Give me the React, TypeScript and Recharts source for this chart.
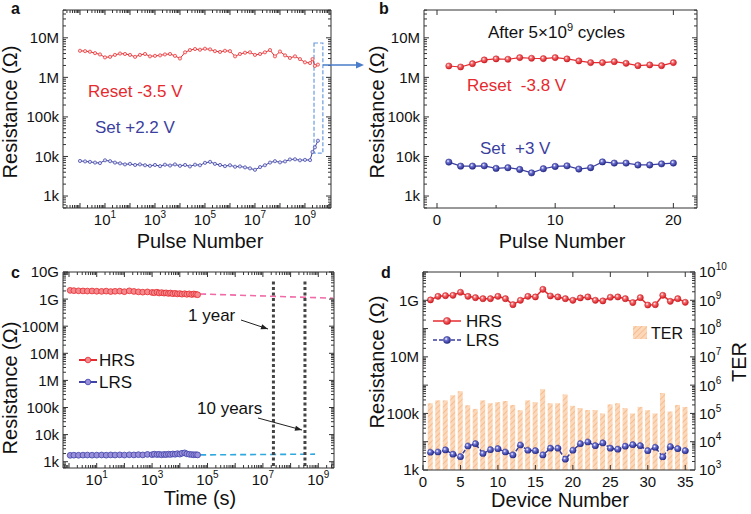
import React from "react";
import {
  LineChart,
  ComposedChart,
  Line,
  Bar,
  XAxis,
  YAxis,
  ReferenceArea,
  ReferenceLine,
} from "recharts";

const FONT = '"Liberation Sans", Arial, sans-serif';
const RED = "#E62A2E";
const BLUE = "#3B3F9F";
const AXIS = "#333";

// ---- a: endurance, 1 .. 5e9 pulses ----
const pulseA = [
  1, 1.6, 2.5, 4, 6.3, 10, 16, 25, 40, 63, 100, 160, 250, 400, 630, 1e3, 1.6e3, 2.5e3, 4e3, 6.3e3,
  1e4, 1.6e4, 2.5e4, 4e4, 6.3e4, 1e5, 1.6e5, 2.5e5, 4e5, 6.3e5, 1e6, 1.6e6, 2.5e6, 4e6, 6.3e6,
  1e7, 1.6e7, 2.5e7, 4e7, 6.3e7, 1e8, 1.6e8, 2.5e8, 4e8, 6.3e8, 1e9, 1.6e9, 2e9, 2.5e9, 3.3e9,
];
// MΩ
const resetA = [
  4.7, 4.6, 4.45, 4.1, 3.8, 3.2, 3.3, 3.7, 4.0, 3.9, 3.7, 3.3, 3.7, 3.9, 3.4, 3.5, 3.6, 3.8, 3.9, 3.5,
  3.0, 4.3, 4.9, 5.2, 5.0, 5.3, 5.1, 4.6, 4.4, 4.7, 4.6, 3.4, 3.9, 4.2, 4.3, 3.7, 3.9, 4.3, 4.9, 3.4,
  4.5, 3.6, 3.1, 3.4, 2.9, 2.4, 2.3, 2.9, 1.95, 2.1,
];
// kΩ
const setA = [
  7.7, 7.5, 7.3, 7.0, 6.8, 8.0, 7.6, 7.0, 6.7, 6.3, 6.5, 6.1, 6.3, 6.0, 5.8, 6.1, 5.7, 6.2, 5.9, 6.3,
  5.8, 6.1, 5.6, 6.2, 6.0, 6.9, 7.3, 6.5, 6.1, 5.7, 6.0, 5.5, 5.6, 5.3, 5.0, 4.6, 5.4, 6.0, 7.0, 7.6,
  7.1, 7.5, 8.4, 8.5, 8.0, 8.2, 8.1, 13, 17, 25,
];

// ---- b: 20 pulses after 5e9 cycles ----
const pulseB = [1, 2, 3, 4, 5, 6, 7, 8, 9, 10, 11, 12, 13, 14, 15, 16, 17, 18, 19, 20];
const resetB = [1.94, 1.83, 2.22, 2.76, 2.93, 2.87, 3.16, 3.04, 2.98, 3.16, 2.93, 2.6, 2.36, 2.36, 2.5, 2.27, 1.98, 2.06, 1.98, 2.36];
const setB = [7.2, 5.7, 5.7, 5.8, 5.0, 5.2, 4.7, 3.85, 4.9, 5.6, 5.8, 4.8, 5.2, 7.3, 6.8, 6.8, 6.1, 6.1, 6.5, 6.8];

// ---- c: retention ----
const timeC = [
  1.1, 1.5, 2.2, 3.2, 4.6, 6.8, 10, 15, 22, 32, 46, 68, 100, 150, 220, 320, 460, 680, 1000, 1200,
  1500, 1800, 2200, 2700, 3200, 3900, 4600, 5600, 6800, 8200, 1e4, 1.2e4, 1.5e4, 1.8e4, 2.2e4, 2.7e4,
  3.2e4, 3.8e4, 4.4e4,
];
// GΩ
const hrsC = [
  2.1, 2.05, 2.02, 2.0, 1.98, 1.99, 1.95, 1.93, 1.97, 1.9, 1.94, 1.96, 1.88, 2.02, 1.92, 1.85, 1.8, 1.84,
  1.76, 1.72, 1.8, 1.68, 1.74, 1.66, 1.7, 1.62, 1.68, 1.58, 1.64, 1.55, 1.6, 1.52, 1.58, 1.5, 1.56, 1.48,
  1.55, 1.5, 1.45,
];
// kΩ
const lrsC = [
  1.72, 1.74, 1.73, 1.75, 1.76, 1.74, 1.75, 1.77, 1.74, 1.78, 1.76, 1.79, 1.76, 1.8, 1.78, 1.82, 1.78,
  1.86, 1.82, 1.9, 1.84, 1.88, 1.8, 1.86, 1.83, 1.9, 1.85, 1.93, 1.88, 1.98, 1.9, 2.05, 2.12, 1.95, 1.88,
  1.84, 1.8, 1.82, 1.78,
];
const fitTimeHrs = [1.1, 3.4e9];
const fitHrs = [2.2e9, 1.08e9];
const fitTimeLrs = [1.1, 7.6e8];
const fitLrs = [1.66e3, 1.9e3];
const oneYear = 2.4e7;
const tenYears = 3.3e8;

// ---- d: device to device ----
const deviceD = Array.from({ length: 35 }, (_, i) => i + 1);
const hrsD = [
  1.03, 1.38, 1.46, 1.5, 1.92, 1.38, 1.24, 1.14, 1.14, 1.38, 1.14, 0.7, 1.0, 1.38, 1.31, 2.44, 1.42, 1.31,
  1.14, 1.0, 1.21, 1.31, 1.0, 0.95, 1.28, 1.31, 1.14, 0.83, 1.24, 0.68, 0.7, 1.5, 0.92, 1.14, 0.85,
];
const lrsD = [
  4.2, 4.3, 5.1, 3.6, 2.95, 7.0, 8.5, 3.8, 5.2, 5.65, 4.3, 3.4, 7.6, 4.95, 4.8, 3.4, 5.85, 5.85, 2.4,
  4.95, 8.5, 9.7, 7.2, 9.0, 5.85, 5.4, 6.9, 7.8, 7.2, 4.8, 6.3, 2.9, 6.7, 5.65, 4.8,
];
const terD = [
  2.3e5, 2.9e5, 2.9e5, 4.4e5, 6.1e5, 1.95e5, 1.45e5, 2.9e5, 2.3e5, 2.5e5, 2.75e5, 2.0e5, 1.3e5, 2.9e5,
  2.5e5, 7.2e5, 2.3e5, 2.3e5, 4.7e5, 1.86e5, 1.55e5, 1.32e5, 1.32e5, 1.0e5, 2.1e5, 2.3e5, 1.55e5, 1.0e5,
  1.7e5, 1.3e5, 1.0e5, 5.3e5, 1.17e5, 2.0e5, 1.7e5,
];

const OHM = ["1", "10", "100", "1k", "10k", "100k", "1M", "10M", "100M", "1G", "10G"];

const rowsA = pulseA.map((n, i) => ({ n, reset: resetA[i] * 1e6, set: setA[i] * 1e3 }));
const rowsB = pulseB.map((n, i) => ({ n, reset: resetB[i] * 1e6, set: setB[i] * 1e3 }));
const hrsRowsC = timeC.map((t, i) => ({ t, r: hrsC[i] * 1e9 }));
const lrsRowsC = timeC.map((t, i) => ({ t, r: lrsC[i] * 1e3 }));
const fitHrsRows = fitTimeHrs.map((t, i) => ({ t, r: fitHrs[i] }));
const fitLrsRows = fitTimeLrs.map((t, i) => ({ t, r: fitLrs[i] }));
const rowsD = deviceD.map((n, i) => ({ n, hrs: hrsD[i] * 1e9, lrs: lrsD[i] * 1e3, ter: terD[i] }));

const exp10 = (v: number) => Math.round(Math.log10(v));
const isDecade = (v: number) => Math.abs(Math.log10(v) - exp10(v)) < 1e-6;

function logTicks(lo: number, hi: number) {
  const out: number[] = [];
  for (let e = Math.floor(Math.log10(lo)); e <= Math.ceil(Math.log10(hi)); e++)
    for (let m = 1; m < 10; m++) {
      const v = m * Math.pow(10, e);
      if (v >= lo * 0.999 && v <= hi * 1.001) out.push(v);
    }
  return out;
}

const pow10 = (e: number, sup = 10) => (
  <>
    <tspan>10</tspan>
    <tspan dy={-7} fontSize={sup}>
      {e}
    </tspan>
  </>
);

type Side = "left" | "right" | "top" | "bottom";

function tickFactory(
  side: Side,
  major: (v: number) => boolean,
  label: (v: number) => React.ReactNode,
  fontSize = 15
) {
  return function TickMark(props: any) {
    const { x, y, payload } = props;
    const v = payload.value as number;
    const big = major(v);
    const len = big ? 5 : 3;
    const lab = big ? label(v) : null;
    const dx = side === "left" ? len : side === "right" ? -len : 0;
    const dy = side === "top" ? len : side === "bottom" ? -len : 0;
    let text = null;
    if (lab !== null && lab !== undefined) {
      const common = { fontSize, fontFamily: FONT, fill: "#111" };
      if (side === "left")
        text = (
          <text x={x - 4} y={y} dy="0.36em" textAnchor="end" {...common}>
            {lab}
          </text>
        );
      else if (side === "right")
        text = (
          <text x={x + 4} y={y} dy="0.36em" textAnchor="start" {...common}>
            {lab}
          </text>
        );
      else
        text = (
          <text x={x} y={y + 17} textAnchor="middle" {...common}>
            {lab}
          </text>
        );
    }
    return (
      <g>
        <line x1={x} y1={y} x2={x + dx} y2={y + dy} stroke={AXIS} strokeWidth={1} />
        {text}
      </g>
    );
  };
}

const none = () => null;
const axisLine = { stroke: AXIS, strokeWidth: 1 };
const axisCommon = { tickSize: 0, tickMargin: 0, interval: 0 as const, axisLine, allowDataOverflow: true };

// domains
const domA: [number, number] = [0.209, 1.1e10];
const domRA: [number, number] = [498, 5.05e7];
const domB: [number, number] = [-1.1, 22];
const domC: [number, number] = [0.607, 3.69e9];
const domRC: [number, number] = [586, 1e10];
const domD: [number, number] = [0, 36.3];
const domRD: [number, number] = [1e3, 1e10];

const ticksA = logTicks(domA[0], domA[1]);
const ticksRA = logTicks(domRA[0], domRA[1]);
const ticksB = [0, 5, 10, 15, 20];
const ticksC = logTicks(domC[0], domC[1]);
const ticksRC = logTicks(domRC[0], domRC[1]);
const ticksD = [0, 5, 10, 15, 20, 25, 30, 35];
const ticksRD = logTicks(domRD[0], domRD[1]);

const oddPow = (v: number) => (exp10(v) % 2 !== 0 ? pow10(exp10(v)) : null);
const ohmLabel = (v: number) => OHM[exp10(v)];

const redDot = { r: 1.6, fill: "#FFD8D8", stroke: RED, strokeWidth: 0.7 };
const blueDot = { r: 1.6, fill: "#D8DAF5", stroke: BLUE, strokeWidth: 0.7 };
const redSphere = { r: 3.1, fill: "url(#sphRed)", stroke: "#C81E24", strokeWidth: 0.5 };
const blueSphere = { r: 3.2, fill: "url(#sphBlue)", stroke: "#262A86", strokeWidth: 0.5 };

function PanelA() {
  return (
    <LineChart width={372} height={257} data={rowsA} margin={{ top: 9, right: 40, bottom: 0, left: 0 }}>
      <XAxis dataKey="n" type="number" scale="log" domain={domA} ticks={ticksA} height={49}
        tick={tickFactory("bottom", isDecade, oddPow)} {...axisCommon} />
      <XAxis xAxisId="top" orientation="top" dataKey="n" type="number" scale="log" domain={domA} ticks={ticksA}
        height={1} tick={tickFactory("top", isDecade, none)} {...axisCommon} />
      <YAxis type="number" scale="log" domain={domRA} ticks={ticksRA} width={63}
        tick={tickFactory("left", isDecade, ohmLabel)} {...axisCommon} />
      <YAxis yAxisId="right" orientation="right" type="number" scale="log" domain={domRA} ticks={ticksRA}
        width={1} tick={tickFactory("right", isDecade, none)} {...axisCommon} />
      <Line dataKey="reset" stroke={RED} strokeWidth={1} dot={redDot} isAnimationActive={false} />
      <Line dataKey="set" stroke={BLUE} strokeWidth={1} dot={blueDot} isAnimationActive={false} />
      <ReferenceArea x1={2.3e9} x2={5.2e9} y1={1.22e4} y2={7.4e6} fill="none" fillOpacity={0}
        stroke="#6A9BE0" strokeWidth={1.2} strokeDasharray="4 2" />
    </LineChart>
  );
}

function PanelB() {
  return (
    <LineChart width={379} height={257} data={rowsB} margin={{ top: 9, right: 53, bottom: 0, left: 0 }}>
      <XAxis dataKey="n" type="number" domain={domB} ticks={ticksB} height={49}
        tick={tickFactory("bottom", (v) => v % 10 === 0, (v) => String(v))} {...axisCommon} />
      <XAxis xAxisId="top" orientation="top" dataKey="n" type="number" domain={domB} ticks={ticksB}
        height={1} tick={tickFactory("top", (v) => v % 10 === 0, none)} {...axisCommon} />
      <YAxis type="number" scale="log" domain={domRA} ticks={ticksRA} width={52}
        tick={tickFactory("left", isDecade, ohmLabel)} {...axisCommon} />
      <YAxis yAxisId="right" orientation="right" type="number" scale="log" domain={domRA} ticks={ticksRA}
        width={1} tick={tickFactory("right", isDecade, none)} {...axisCommon} />
      <Line dataKey="reset" stroke={RED} strokeWidth={1.2} dot={redSphere} isAnimationActive={false} />
      <Line dataKey="set" stroke={BLUE} strokeWidth={1.2} dot={blueSphere} isAnimationActive={false} />
    </LineChart>
  );
}

function PanelC() {
  return (
    <LineChart width={372} height={257} margin={{ top: 14, right: 37, bottom: 0, left: 0 }}>
      <XAxis dataKey="t" type="number" scale="log" domain={domC} ticks={ticksC} height={46}
        tick={tickFactory("bottom", isDecade, oddPow)} {...axisCommon} />
      <XAxis xAxisId="top" orientation="top" dataKey="t" type="number" scale="log" domain={domC} ticks={ticksC}
        height={1} tick={tickFactory("top", isDecade, none)} {...axisCommon} />
      <YAxis type="number" scale="log" domain={domRC} ticks={ticksRC} width={63}
        tick={tickFactory("left", isDecade, ohmLabel)} {...axisCommon} />
      <YAxis yAxisId="right" orientation="right" type="number" scale="log" domain={domRC} ticks={ticksRC}
        width={1} tick={tickFactory("right", isDecade, none)} {...axisCommon} />
      <Line data={fitHrsRows} dataKey="r" stroke="#F06AA8" strokeWidth={1.6} strokeDasharray="6 4" dot={false}
        isAnimationActive={false} />
      <Line data={fitLrsRows} dataKey="r" stroke="#2FA8E0" strokeWidth={1.6} strokeDasharray="6 4" dot={false}
        isAnimationActive={false} />
      <Line data={hrsRowsC} dataKey="r" stroke={RED} strokeWidth={1.4}
        dot={{ r: 2.9, fill: "#F48A8E", stroke: RED, strokeWidth: 0.8 }} isAnimationActive={false} />
      <Line data={lrsRowsC} dataKey="r" stroke="#4044A8" strokeWidth={1.4}
        dot={{ r: 2.9, fill: "#9A90DA", stroke: "#3F43A8", strokeWidth: 0.8 }} isAnimationActive={false} />
      <ReferenceLine segment={[{ x: oneYear, y: 4.5e9 }, { x: oneYear, y: domRC[0] }]} stroke="#444"
        strokeWidth={3} strokeDasharray="3 2.5" />
      <ReferenceLine segment={[{ x: tenYears, y: 4.5e9 }, { x: tenYears, y: domRC[0] }]} stroke="#444"
        strokeWidth={3} strokeDasharray="3 2.5" />
    </LineChart>
  );
}

function PanelD() {
  return (
    <ComposedChart width={379} height={257} data={rowsD} margin={{ top: 14, right: 0, bottom: 0, left: 0 }}>
      <XAxis dataKey="n" type="number" domain={domD} ticks={ticksD} height={44}
        tick={tickFactory("bottom", () => true, (v) => String(v))} {...axisCommon} />
      <XAxis xAxisId="top" orientation="top" dataKey="n" type="number" domain={domD} ticks={ticksD}
        height={1} tick={tickFactory("top", () => true, none)} {...axisCommon} />
      <YAxis yAxisId="left" type="number" scale="log" domain={domRD} ticks={ticksRD} width={51}
        tick={tickFactory("left", isDecade, (v) => (exp10(v) % 2 ? OHM[exp10(v)] : null))} {...axisCommon} />
      <YAxis yAxisId="right" orientation="right" type="number" scale="log" domain={domRD} ticks={ticksRD}
        width={56} tick={tickFactory("right", isDecade, (v) => pow10(exp10(v), 10))} {...axisCommon} />
      <Bar yAxisId="right" dataKey="ter" barSize={5} fill="url(#hatchTER)" isAnimationActive={false} />
      <Line yAxisId="left" dataKey="hrs" stroke={RED} strokeWidth={1.5} dot={redSphere} isAnimationActive={false} />
      <Line yAxisId="left" dataKey="lrs" stroke={BLUE} strokeWidth={1.5} strokeDasharray="4 2" dot={blueSphere}
        isAnimationActive={false} />
    </ComposedChart>
  );
}

function arrowHead(x1: number, y1: number, x2: number, y2: number, len = 7, half = 2.6) {
  const L = Math.hypot(x2 - x1, y2 - y1);
  const ux = (x2 - x1) / L;
  const uy = (y2 - y1) / L;
  const bx = x2 - ux * len;
  const by = y2 - uy * len;
  return `${x2},${y2} ${bx - uy * half},${by + ux * half} ${bx + uy * half},${by - ux * half}`;
}

function Overlay() {
  const title = { fontSize: 20, fontFamily: FONT, fill: "#111" };
  const note = { fontSize: 17, fontFamily: FONT };
  return (
    <svg width={751} height={514} style={{ position: "absolute", left: 0, top: 0, pointerEvents: "none" }}>
      <defs>
        <radialGradient id="sphRed" cx="0.38" cy="0.35" r="0.65">
          <stop offset="0" stopColor="#FFFFFF" />
          <stop offset="0.35" stopColor="#F66B6E" />
          <stop offset="1" stopColor="#CF1C22" />
        </radialGradient>
        <radialGradient id="sphBlue" cx="0.38" cy="0.35" r="0.65">
          <stop offset="0" stopColor="#FFFFFF" />
          <stop offset="0.35" stopColor="#6E72D2" />
          <stop offset="1" stopColor="#262A86" />
        </radialGradient>
        <pattern id="hatchTER" patternUnits="userSpaceOnUse" width="4" height="4" patternTransform="rotate(45)">
          <rect width="4" height="4" fill="#FCD8BA" />
          <line x1="0" y1="0" x2="0" y2="4" stroke="#F4AE78" strokeWidth="1.3" />
        </pattern>
      </defs>

      {/* panel letters */}
      <g fontFamily={FONT} fontWeight="bold" fontSize={16} fill="#111">
        <text x={11} y={14}>a</text>
        <text x={379} y={14}>b</text>
        <text x={11} y={278}>c</text>
        <text x={381} y={278}>d</text>
      </g>

      {/* axis titles */}
      <text x={200} y={248} textAnchor="middle" {...title}>Pulse Number</text>
      <text x={562} y={248} textAnchor="middle" {...title}>Pulse Number</text>
      <text x={200} y={505} textAnchor="middle" {...title}>Time (s)</text>
      <text x={560} y={507} textAnchor="middle" {...title}>Device Number</text>
      <text transform="translate(17,112) rotate(-90)" textAnchor="middle" {...title}>Resistance (Ω)</text>
      <text transform="translate(384,112) rotate(-90)" textAnchor="middle" {...title}>Resistance (Ω)</text>
      <text transform="translate(17,388) rotate(-90)" textAnchor="middle" {...title}>Resistance (Ω)</text>
      <text transform="translate(384,362) rotate(-90)" textAnchor="middle" {...title}>Resistance (Ω)</text>
      <text transform="translate(746,362) rotate(-90)" textAnchor="middle" {...title}>TER</text>

      {/* panel a notes */}
      <text x={88} y={97} fill={RED} {...note}>Reset -3.5 V</text>
      <text x={95} y={133} fill={BLUE} {...note}>Set +2.2 V</text>
      <line x1={323} y1={65} x2={357} y2={65} stroke="#4A7CC9" strokeWidth={1.5} />
      <polygon points={arrowHead(323, 65, 364, 65, 8, 3.5)} fill="#4A7CC9" />

      {/* panel b notes */}
      <text x={488} y={38} fill="#111" {...note}>
        After 5×10<tspan dy={-7} fontSize={11}>9</tspan>
        <tspan dy={7}> cycles</tspan>
      </text>
      <text x={467} y={91} fill={RED} style={{ whiteSpace: "pre" }} {...note}>Reset  -3.8 V</text>
      <text x={480} y={154} fill={BLUE} style={{ whiteSpace: "pre" }} {...note}>Set  +3 V</text>

      {/* panel c notes */}
      <text x={188} y={321} fill="#111" {...note}>1 year</text>
      <text x={197} y={414} fill="#111" {...note}>10 years</text>
      <line x1={241} y1={320} x2={268} y2={329} stroke="#222" strokeWidth={1} />
      <polygon points={arrowHead(241, 320, 268, 329)} fill="#222" />
      <line x1={258} y1={418} x2={302} y2={430} stroke="#222" strokeWidth={1} />
      <polygon points={arrowHead(258, 418, 302, 430)} fill="#222" />

      {/* panel c legend */}
      <line x1={79} y1={360} x2={97} y2={360} stroke={RED} strokeWidth={2} />
      <circle cx={88} cy={360} r={2.8} fill="#F48A8E" stroke={RED} strokeWidth={0.8} />
      <text x={99} y={366} fontSize={17} fontFamily={FONT} fill="#111">HRS</text>
      <line x1={79} y1={382} x2={97} y2={382} stroke="#4044A8" strokeWidth={2} />
      <circle cx={88} cy={382} r={2.8} fill="#9A90DA" stroke="#3F43A8" strokeWidth={0.8} />
      <text x={99} y={388} fontSize={17} fontFamily={FONT} fill="#111">LRS</text>

      {/* panel d legend */}
      <line x1={433} y1={321} x2={461} y2={321} stroke={RED} strokeWidth={1.5} />
      <circle cx={447} cy={321} r={3.6} fill="url(#sphRed)" stroke="#C81E24" strokeWidth={0.5} />
      <text x={466} y={327} fontSize={17} fontFamily={FONT} fill="#111">HRS</text>
      <line x1={433} y1={340} x2={461} y2={340} stroke={BLUE} strokeWidth={1.5} strokeDasharray="4 2" />
      <circle cx={447} cy={340} r={3.6} fill="url(#sphBlue)" stroke="#262A86" strokeWidth={0.5} />
      <text x={466} y={346} fontSize={17} fontFamily={FONT} fill="#111">LRS</text>
      <rect x={633} y={326} width={14} height={13} fill="url(#hatchTER)" />
      <text x={651} y={339} fontSize={16} fontFamily={FONT} fill="#111">TER</text>
    </svg>
  );
}

export default function App() {
  return (
    <div style={{ position: "absolute", left: 0, top: 0, width: 751, height: 514, background: "#fff" }}>
      <div style={{ position: "absolute", left: 0, top: 0 }}>
        <PanelA />
      </div>
      <div style={{ position: "absolute", left: 372, top: 0 }}>
        <PanelB />
      </div>
      <div style={{ position: "absolute", left: 0, top: 257 }}>
        <PanelC />
      </div>
      <div style={{ position: "absolute", left: 372, top: 257 }}>
        <PanelD />
      </div>
      <Overlay />
    </div>
  );
}
